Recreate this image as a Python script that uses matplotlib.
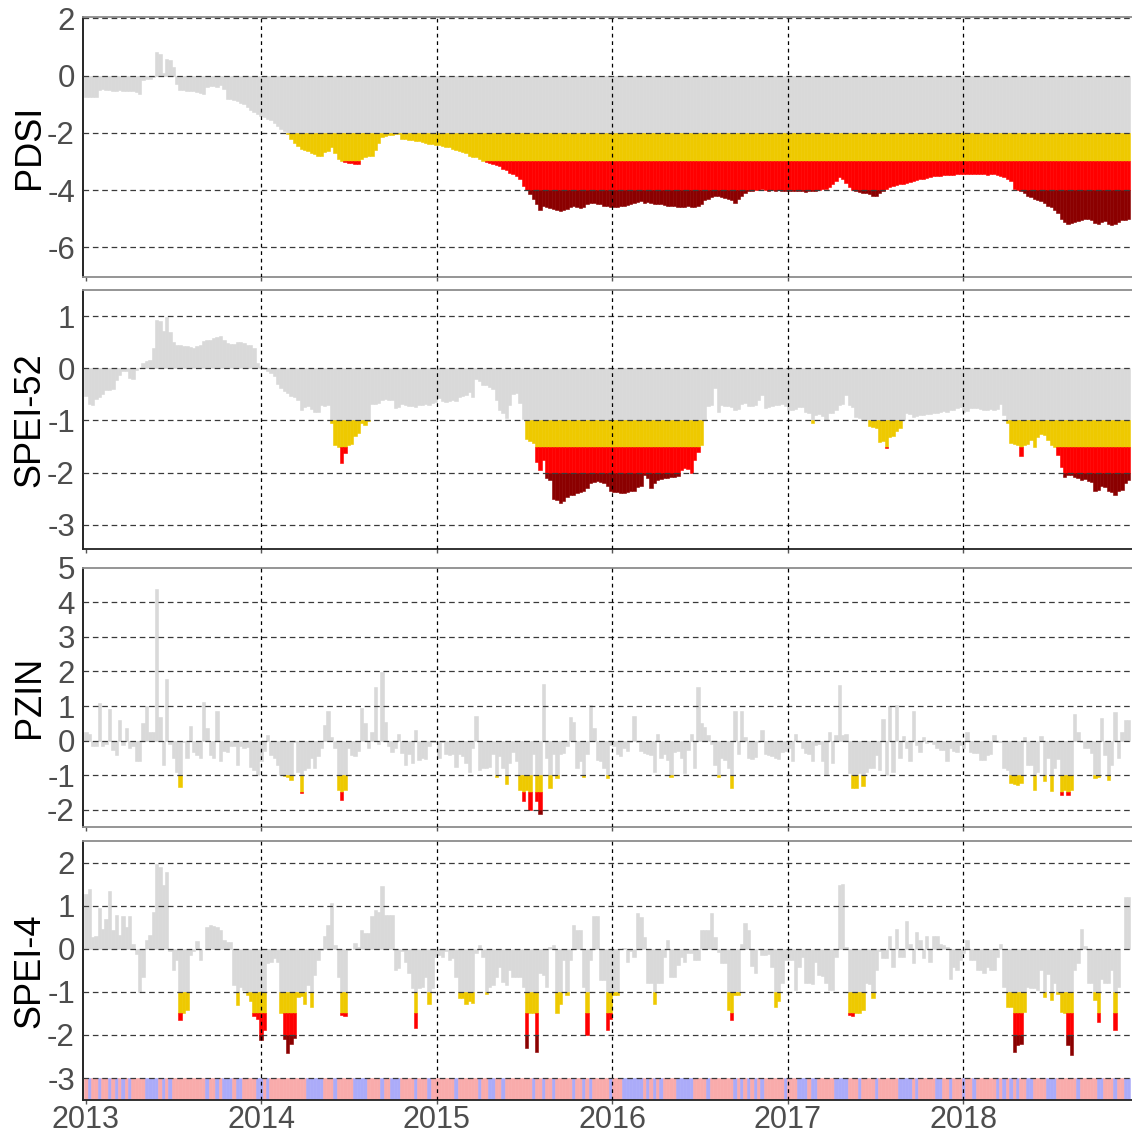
import numpy as np
import pandas as pd
import matplotlib
matplotlib.use("Agg")
import matplotlib.pyplot as plt
import matplotlib.dates as mdates

plt.rcParams["font.family"] = ["Liberation Sans", "DejaVu Sans"]
plt.rcParams["axes.unicode_minus"] = False

# weekly index values, first week = 2013-01-01
pdsi = [
    -0.76, -0.76, -0.75, -0.74, -0.5, -0.48, -0.5, -0.5, -0.52, -0.53,
    -0.5, -0.52, -0.55, -0.53, -0.55, -0.57, -0.65, -0.15, -0.12, -0.1,
    -0.05, 0.82, 0.75, 0.1, 0.58, 0.55, 0.3, -0.3, -0.5, -0.5,
    -0.52, -0.53, -0.55, -0.57, -0.6, -0.65, -0.38, -0.35, -0.35, -0.4,
    -0.33, -0.45, -0.8, -0.82, -0.85, -0.9, -0.95, -1.0, -1.1, -1.2,
    -1.28, -1.35, -1.4, -1.45, -1.5, -1.55, -1.65, -1.75, -1.85, -1.95,
    -2.05, -2.2, -2.35, -2.45, -2.55, -2.6, -2.65, -2.7, -2.75, -2.82,
    -2.8, -2.68, -2.62, -2.5, -2.7, -2.9, -3.0, -3.02, -3.05, -3.05,
    -3.08, -3.1, -2.9, -2.85, -2.8, -2.8, -2.6, -2.35, -2.15, -2.1,
    -2.08, -2.06, -2.05, -2.04, -2.2, -2.22, -2.25, -2.25, -2.28, -2.3,
    -2.33, -2.35, -2.38, -2.4, -2.42, -2.44, -2.45, -2.48, -2.5, -2.55,
    -2.6, -2.63, -2.68, -2.72, -2.8, -2.83, -2.86, -2.9, -2.98, -3.02,
    -3.05, -3.1, -3.12, -3.15, -3.25, -3.3, -3.4, -3.45, -3.5, -3.6,
    -3.85, -4.0, -4.15, -4.3, -4.5, -4.7, -4.55, -4.6, -4.62, -4.65,
    -4.7, -4.72, -4.7, -4.65, -4.58, -4.55, -4.6, -4.62, -4.58, -4.5,
    -4.45, -4.45, -4.48, -4.5, -4.55, -4.57, -4.6, -4.6, -4.58, -4.57,
    -4.55, -4.52, -4.5, -4.47, -4.42, -4.4, -4.45, -4.42, -4.45, -4.48,
    -4.5, -4.5, -4.52, -4.55, -4.55, -4.57, -4.6, -4.58, -4.6, -4.57,
    -4.58, -4.6, -4.55, -4.5, -4.35, -4.3, -4.25, -4.22, -4.2, -4.25,
    -4.28, -4.32, -4.35, -4.45, -4.3, -4.2, -4.1, -4.05, -4.03, -4.0,
    -4.0, -3.98, -4.0, -4.02, -4.0, -4.02, -4.0, -4.02, -4.03, -4.05,
    -4.02, -4.05, -4.05, -4.05, -4.07, -4.05, -4.03, -4.05, -4.0, -3.98,
    -3.95, -3.9, -3.8, -3.7, -3.55, -3.6, -3.75, -3.9, -4.0, -4.05,
    -4.08, -4.1, -4.12, -4.15, -4.2, -4.22, -4.1, -4.02, -3.95, -3.9,
    -3.85, -3.82, -3.8, -3.78, -3.75, -3.72, -3.7, -3.65, -3.62, -3.6,
    -3.58, -3.55, -3.52, -3.5, -3.5, -3.48, -3.47, -3.47, -3.46, -3.45,
    -3.44, -3.43, -3.44, -3.45, -3.45, -3.45, -3.44, -3.45, -3.46, -3.45,
    -3.45, -3.47, -3.5, -3.55, -3.6, -3.7, -3.95, -4.0, -4.05, -4.1,
    -4.2, -4.25, -4.3, -4.35, -4.4, -4.45, -4.55, -4.6, -4.7, -4.8,
    -5.0, -5.1, -5.2, -5.15, -5.1, -5.08, -5.05, -5.02, -5.02, -5.05,
    -5.15, -5.2, -5.1, -5.08, -5.2, -5.22, -5.2, -5.1, -5.05, -5.05,
    -5.0,
]

spei52 = [
    -0.54, -0.68, -0.7, -0.58, -0.55, -0.5, -0.42, -0.42, -0.4, -0.22,
    -0.13, -0.05, -0.06, -0.18, -0.2, -0.03, 0.0, 0.1, 0.13, 0.15,
    0.38, 0.93, 0.9, 0.72, 0.99, 0.7, 0.51, 0.45, 0.44, 0.42,
    0.43, 0.4, 0.38, 0.42, 0.45, 0.52, 0.54, 0.55, 0.58, 0.6,
    0.62, 0.55, 0.48, 0.47, 0.46, 0.5, 0.5, 0.48, 0.45, 0.45,
    0.38, 0.1, 0.02, -0.02, -0.06, -0.1, -0.15, -0.3, -0.38, -0.44,
    -0.48, -0.53, -0.55, -0.6, -0.8, -0.75, -0.73, -0.78, -0.84, -0.83,
    -0.7, -0.72, -0.7, -1.05, -1.48, -1.5, -1.82, -1.63, -1.48, -1.45,
    -1.3, -1.25, -1.05, -1.08, -1.02, -0.68, -0.68, -0.66, -0.6, -0.58,
    -0.6, -0.6, -0.77, -0.75, -0.68, -0.7, -0.73, -0.72, -0.74, -0.7,
    -0.7, -0.68, -0.7, -0.66, -0.64, -0.57, -0.62, -0.64, -0.62, -0.6,
    -0.62, -0.55, -0.54, -0.52, -0.45, -0.56, -0.21, -0.25, -0.32, -0.33,
    -0.35, -0.4, -0.6, -0.8, -0.85, -0.96, -0.7, -0.5, -0.48, -0.67,
    -0.98, -1.36, -1.4, -1.44, -1.79, -1.95, -1.76, -2.1, -2.15, -2.5,
    -2.52, -2.59, -2.55, -2.46, -2.43, -2.42, -2.4, -2.38, -2.36, -2.3,
    -2.2, -2.18, -2.17, -2.18, -2.2, -2.25, -2.36, -2.37, -2.37, -2.4,
    -2.4, -2.38, -2.36, -2.35, -2.27, -2.25, -2.05, -2.1, -2.3, -2.2,
    -2.14, -2.12, -2.1, -2.1, -2.08, -2.08, -2.06, -1.95, -1.92, -1.93,
    -2.0, -1.76, -1.6, -1.47, -0.99, -0.73, -0.7, -0.38, -0.83, -0.7,
    -0.72, -0.73, -0.75, -0.8, -0.78, -0.68, -0.67, -0.72, -0.72, -0.7,
    -0.6, -0.51, -0.77, -0.75, -0.72, -0.7, -0.7, -0.68, -0.72, -0.8,
    -0.8, -0.78, -0.74, -0.75, -0.83, -0.85, -1.05, -0.9, -0.88, -0.92,
    -0.99, -0.86, -0.85, -0.8, -0.7, -0.68, -0.51, -0.7, -0.75, -0.93,
    -0.95, -0.99, -1.0, -1.1, -1.12, -1.15, -1.42, -1.4, -1.53, -1.31,
    -1.3, -1.21, -1.15, -0.99, -0.86, -0.88, -0.93, -0.92, -0.9, -0.9,
    -0.88, -0.87, -0.85, -0.85, -0.83, -0.82, -0.84, -0.8, -0.8, -0.77,
    -0.75, -0.83, -0.82, -0.77, -0.76, -0.77, -0.78, -0.8, -0.8, -0.79,
    -0.8, -0.78, -0.68, -0.9, -1.05, -1.44, -1.45, -1.47, -1.69, -1.47,
    -1.45, -1.37, -1.5, -1.31, -1.26, -1.27, -1.37, -1.47, -1.5, -1.66,
    -1.9, -2.08, -2.05, -2.04, -2.08, -2.1, -2.14, -2.12, -2.17, -2.18,
    -2.36, -2.34, -2.25, -2.27, -2.36, -2.38, -2.43, -2.35, -2.33, -2.2,
    -2.14,
]

pzin = [
    0.26, 0.2, -0.15, -0.15, 1.08, -0.17, -0.1, 0.9, -0.27, -0.41,
    0.6, -0.13, 0.36, -0.2, -0.15, -0.6, -0.6, 0.5, 1.0, 0.26,
    0.26, 4.39, 0.67, -0.7, 1.78, -0.1, -0.5, -0.9, -1.33, -0.05,
    -0.51, 0.43, -0.32, -0.41, -0.51, 1.13, 0.36, -0.41, -0.5, 0.86,
    -0.6, -0.3, -0.32, -0.17, -0.17, -0.7, -0.17, -0.2, -0.18, -0.75,
    -0.85, -1.0, -0.6, -0.3, 0.16, -0.41, -0.5, -0.7, -1.0, -1.02,
    -1.05, -1.14, -0.05, -0.9, -1.52, -0.85, -0.8, -0.5, -0.8, -0.45,
    -0.2, 0.45, 0.86, 0.1, -0.2, -1.43, -1.72, -1.43, -0.2, -0.41,
    -0.45, -0.3, 0.94, 0.5, -0.2, 0.26, 1.56, -0.1, 1.98, 0.55,
    -0.15, -0.32, -0.2, 0.2, -0.35, -0.7, -0.4, -0.65, 0.3, -0.56,
    -0.5, -0.52, -0.17, -0.05, -0.03, -0.5, -0.05, -0.4, -0.42, -0.38,
    -0.75, -0.4, -0.45, -0.65, -0.9, -0.2, 0.7, -0.85, -0.8, -0.8,
    -0.75, -0.4, -1.04, -0.45, -0.8, -1.26, -0.65, -0.32, -0.6, -1.43,
    -1.76, -1.43, -2.0, -0.4, -1.76, -2.13, 1.63, -0.5, -1.38, -0.4,
    -1.09, -0.4, -0.35, -0.17, 0.68, 0.55, -0.8, -0.6, -1.04, -0.4,
    1.03, 0.36, -0.55, -0.6, -0.8, -1.09, -0.12, -0.15, -0.4, -0.45,
    -0.2, -0.3, -0.05, 0.7, -0.03, -0.3, -0.35, -0.4, -0.42, -0.9,
    0.2, -0.5, -0.4, -0.55, -1.04, -0.32, -0.3, -0.5, -0.95, -0.28,
    0.2, -0.8, 1.56, 0.5, 0.4, 0.16, -0.1, -0.7, -1.04, -0.5,
    -0.55, -0.8, -1.38, 0.87, -0.4, 0.87, 0.1, -0.5, -0.52, -0.48,
    -0.05, 0.3, -0.4, -0.42, -0.45, -0.5, -0.52, -0.32, -0.3, -0.22,
    -0.6, 0.2, -0.05, -0.22, -0.37, -0.38, -0.6, -0.12, -0.1, -0.6,
    -1.0, 0.26, -0.65, 0.16, 1.6, 0.16, 0.18, -0.95, -1.38, -1.38,
    -0.95, -1.3, -0.9, -0.8, -0.8, -0.42, -0.85, 0.63, -1.0, 1.01,
    -0.9, 1.03, -0.5, 0.12, -0.22, -0.6, 0.87, -0.12, -0.32, 0.09,
    -0.08, -0.05, -0.1, -0.22, -0.27, -0.27, -0.6, -0.22, -0.3, -0.32,
    -0.12, -0.2, 0.26, -0.32, -0.35, -0.37, -0.55, -0.56, -0.42, -0.4,
    0.16, -0.03, -0.05, -0.8, -0.85, -1.23, -1.25, -1.28, -1.23, 0.09,
    -0.7, -0.72, -1.43, -0.9, 0.12, -1.18, -0.5, -1.45, -0.8, -0.52,
    -1.57, -1.43, -1.57, -1.43, 0.76, 0.26, -0.03, -0.2, -0.2, -0.37,
    -1.09, -1.05, 0.65, -0.42, -1.14, -0.7, 0.84, -0.5, 0.26, 0.6,
    0.6,
]

spei4 = [
    1.28, 1.38, 0.28, 0.3, 0.94, 0.47, 0.7, 1.35, 0.43, 0.78,
    0.32, 0.76, 0.51, 0.76, 0.12, -0.11, -1.0, -0.65, 0.2, 0.32,
    0.86, 1.96, 1.9, 1.48, 1.79, -0.05, -0.5, -0.26, -1.65, -1.5,
    -1.42, -0.15, -0.05, 0.19, -0.26, 0.0, 0.51, 0.55, 0.53, 0.5,
    0.43, 0.2, 0.16, 0.16, -0.84, -1.31, -0.88, -0.95, -1.07, -1.2,
    -1.55, -1.62, -2.12, -1.89, -0.34, -0.3, -0.22, -0.3, -1.5, -2.1,
    -2.41, -2.2, -2.08, -1.11, -1.1, -1.27, -0.84, -1.35, -0.6, -0.26,
    -0.03, 0.3, 0.55, 1.07, 0.09, -0.65, -1.54, -1.56, -0.03, 0.0,
    0.14, 0.05, 0.43, 0.36, 0.37, 0.76, 0.9, 0.85, 1.45, 0.78,
    0.78, 0.78, -0.5, -0.45, -0.05, -0.3, -0.55, -0.92, -1.85, -0.9,
    -0.88, -0.65, -1.27, -0.9, -0.2, -0.15, -0.2, -0.05, -0.25, -0.22,
    -0.65, -1.15, -1.15, -1.27, -1.2, -1.25, -0.1, 0.08, -0.2, -1.04,
    -0.88, -0.85, -0.65, -0.42, -0.77, -0.84, -0.5, -0.65, -0.65, -0.66,
    -0.88, -2.31, -1.5, -1.5, -2.39, -0.57, -0.6, -0.88, 0.05, 0.08,
    -1.5, -1.27, -0.26, -1.07, -0.26, 0.55, 0.43, 0.43, -0.88, -2.0,
    -0.26, 0.76, 0.76, -0.73, -0.73, -1.89, -1.62, -1.07, -1.07, 0.0,
    0.02, -0.3, -0.05, -0.19, 0.84, 0.74, 0.28, -0.8, -0.8, -1.27,
    -0.8, -0.8, -0.19, 0.2, -0.65, -0.65, -0.38, -0.19, -0.3, -0.1,
    -0.1, -0.26, -0.26, 0.43, 0.43, 0.43, 0.82, 0.28, -0.07, -0.34,
    -0.34, -1.42, -1.65, -1.07, -1.07, 0.12, 0.6, 0.43, -0.4, -0.57,
    0.0, -0.15, -0.15, -0.12, -0.42, -1.35, -1.2, -0.8, -0.25, -0.27,
    -0.25, -0.96, -0.42, -0.2, -0.8, -0.8, -0.82, -0.3, -0.6, -0.62,
    -0.8, -0.96, -0.96, -0.18, 1.48, 1.5, 0.05, -1.54, -1.55, -1.5,
    -1.5, -1.42, -0.8, -0.82, -1.15, -0.5, -0.05, -0.22, -0.22, 0.29,
    -0.42, 0.47, -0.2, -0.18, 0.65, 0.12, -0.34, 0.4, 0.2, -0.22,
    0.29, -0.3, 0.29, 0.29, 0.12, 0.09, 0.05, -0.69, -0.42, -0.5,
    -0.26, -0.1, 0.2, -0.26, -0.26, -0.5, -0.5, -0.57, -0.42, -0.5,
    -0.5, -0.19, 0.12, -0.88, -1.35, -1.35, -2.39, -2.23, -2.2, -1.46,
    -0.88, -0.92, -0.92, -0.96, -0.5, -1.11, -0.58, -1.19, -0.8, -1.04,
    -1.46, -1.5, -2.23, -2.47, -0.5, -0.34, 0.47, 0.06, -0.8, -0.8,
    -1.19, -1.69, -0.7, -0.8, -0.8, -0.5, -1.89, -0.88, 0.0, 1.2,
    1.2,
]

# weekly wet (b) / dry (p) class shown in the strip under SPEI-4
wet_dry = list(
    "pbppbppbpb" "pbpbppppbb" "bbpbpbpppp" "ppppppbppb" "pbbbpbbppp"
    "pbbpbppppp" "ppppppbbbb" "bpppbppppp" "bbbbppppbp" "pbbbppppbp"
    "ppbppppppp" "bppppppbpp" "bbppbppppp" "pppbppbppb" "pppppbppbp"
    "bpppppbppp" "bbbbbbpbpb" "pbppppbbbb" "bppppbpppp" "pppbpbpbpb"
    "pbppppppbp" "ppbbbpbbpp" "pppbbbbppp" "bppppbpppp" "ppbbbbpbpp"
    "pppbbppbpp" "pbppbppppp" "pbpbpbpbpp" "bbppppbbbp" "pppppbpppp"
    "pbbpppbppb" "b"
)

panels = [
    ("PDSI", pdsi, (-2, -3, -4), (-7.03, 2.04), [2, 0, -2, -4, -6]),
    ("SPEI-52", spei52, (-1, -1.5, -2), (-3.47, 1.5), [1, 0, -1, -2, -3]),
    ("PZIN", pzin, (-1, -1.5, -2), (-2.49, 5.0), [5, 4, 3, 2, 1, 0, -1, -2]),
    ("SPEI-4", spei4, (-1, -1.5, -2), (-3.51, 2.51), [2, 1, 0, -1, -2, -3]),
]

GREY = "#D9D9D9"
GOLD = "#EEC900"
RED = "#FF0000"
DARKRED = "#8B0000"
PINK = "#F9ABAB"
BLUE = "#ABABF9"

W, H = 1132, 1136
start = pd.Timestamp("2013-01-01")
t0 = mdates.date2num(start)


def week_x(n):
    return t0 + 7.0 * np.arange(n)


def bar(ax, x, top, bottom, color):
    keep = np.abs(bottom - top) > 1e-9
    ax.bar(x[keep], (bottom - top)[keep], bottom=top[keep], width=7.0,
           color=color, edgecolor=color, linewidth=0.4, zorder=1)


fig = plt.figure(figsize=(W / 100, H / 100), dpi=100)
boxes = [(17.3, 276.7), (290.0, 549.3), (567.7, 826.7), (840.7, 1100.0)]
left_px = 83.3
xmin = t0 - 5.6
xmax = xmin + (W - left_px) * 2.0814
years = [mdates.date2num(pd.Timestamp(f"{y}-01-01")) for y in range(2013, 2019)]

for (name, vals, thr, ylim, yticks), (top_px, bot_px) in zip(panels, boxes):
    ax = fig.add_axes([left_px / W, 1 - bot_px / H, (W - left_px) / W, (bot_px - top_px) / H])
    v = np.asarray(vals, dtype=float)
    x = week_x(len(v))
    t1, t2, t3 = thr
    # grey part from zero down to the first threshold (or up to the value)
    bar(ax, x, np.zeros_like(v), np.maximum(v, t1), GREY)
    bar(ax, x, np.full_like(v, t1), np.clip(v, t2, t1), GOLD)
    bar(ax, x, np.full_like(v, t2), np.clip(v, t3, t2), RED)
    bar(ax, x, np.full_like(v, t3), np.minimum(v, t3), DARKRED)

    if name == "SPEI-4":
        cols = [BLUE if c == "b" else PINK for c in wet_dry]
        xs = week_x(len(wet_dry))
        ax.bar(xs, -1.0, bottom=-3, width=7.0, color=cols, edgecolor=cols,
               linewidth=0.4, zorder=1)

    ax.set_xlim(xmin, xmax)
    ax.set_ylim(*ylim)
    ax.set_yticks(yticks)
    ax.set_yticklabels([str(t) for t in yticks])
    for t in yticks:
        if ylim[0] < t < ylim[1]:
            ax.axhline(t, color="#3A3A3A", lw=0.9, ls=(0, (4.5, 3)), zorder=3)
    for yr in years[1:]:
        ax.axvline(yr, color="black", lw=0.9, ls=(0, (3, 3)), zorder=3)

    ax.set_xticks(years)
    ax.xaxis.set_major_formatter(mdates.DateFormatter("%Y"))
    ax.tick_params(axis="y", length=0, pad=6, labelsize=22.5, labelcolor="#4D4D4D")
    ax.tick_params(axis="x", length=3, width=1, color="#555555", pad=0.5,
                   labelsize=22, labelcolor="#4D4D4D")
    if name != "SPEI-4":
        ax.tick_params(axis="x", labelbottom=False)

    ax.spines["right"].set_visible(False)
    ax.spines["top"].set_color("#8C8C8C")
    ax.spines["top"].set_linewidth(1.3)
    ax.spines["left"].set_color("black")
    ax.spines["left"].set_linewidth(1.2)
    ax.spines["bottom"].set_color("#222222" if name in ("SPEI-52", "SPEI-4") else "#8C8C8C")
    ax.spines["bottom"].set_linewidth(1.3)

    fig.text(30 / W, 1 - (top_px + bot_px) / 2 / H, name, rotation=90,
             ha="center", va="center", fontsize=26, color="black")

fig.savefig("out.png", dpi=100)
